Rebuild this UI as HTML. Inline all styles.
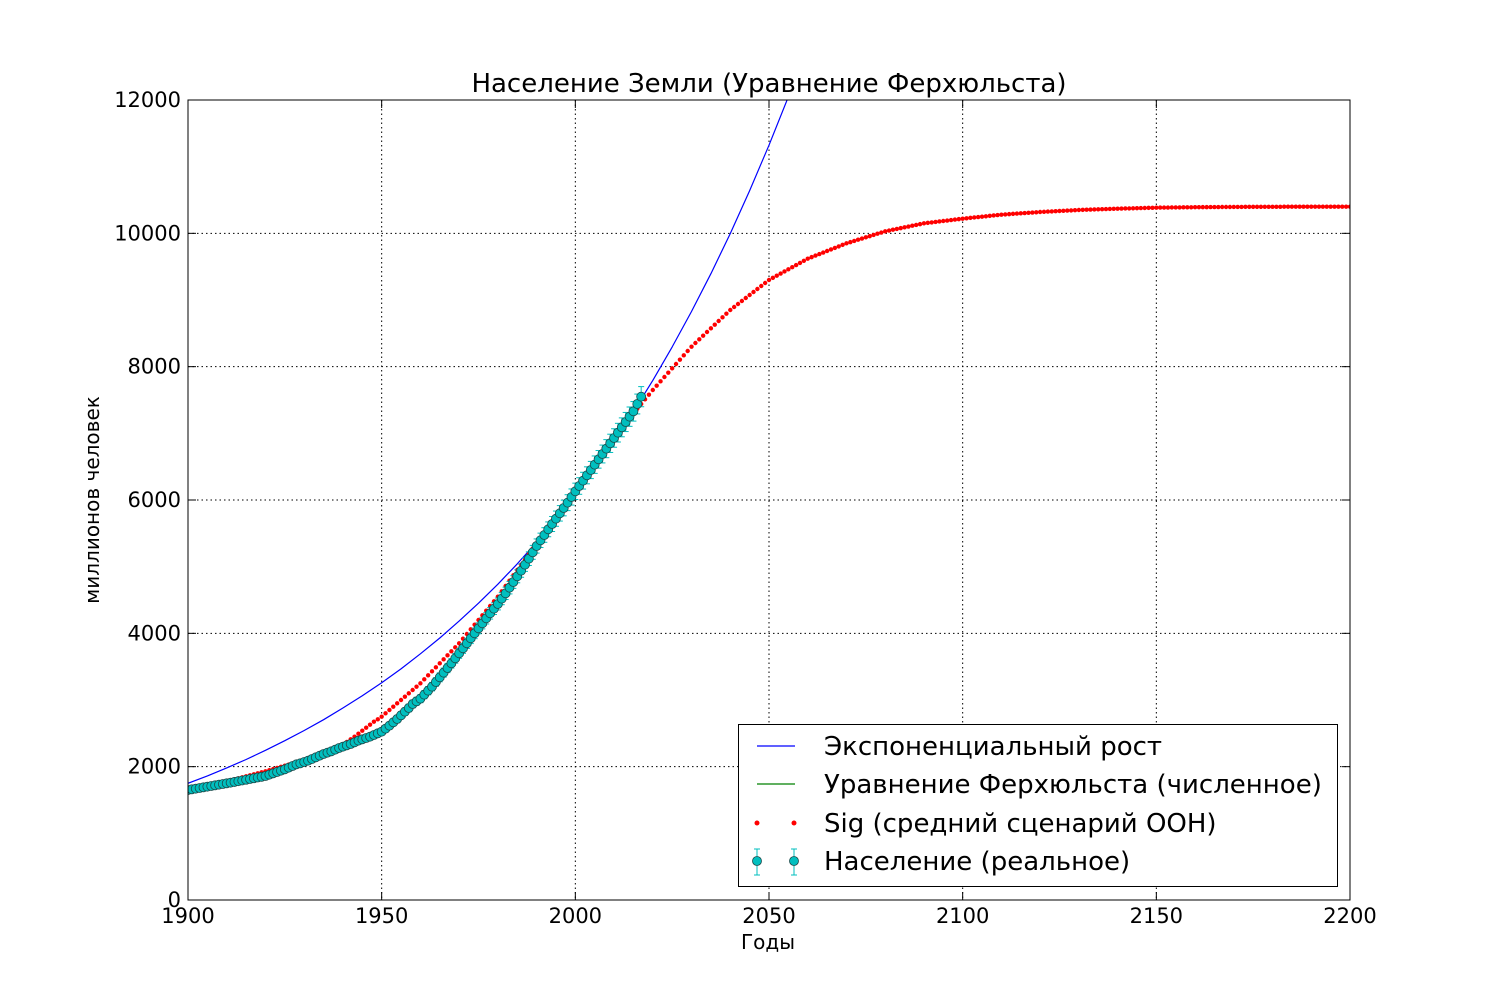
<!DOCTYPE html>
<html><head><meta charset="utf-8"><style>
html,body{margin:0;padding:0;background:#fff;}
svg{display:block;font-family:"DejaVu Sans","Liberation Sans",sans-serif;}
</style></head><body>
<svg id="chart" width="1500" height="1000" viewBox="0 0 1500 1000"></svg>
<script>
const xTicks=[1900,1950,2000,2050,2100,2150,2200];
const yTicks=[0,2000,4000,6000,8000,10000,12000];
const expYears=[1900,1905,1910,1915,1920,1925,1930,1935,1940,1945,1950,1955,1960,1965,1970,1975,1980,1985,1990,1995,2000,2005,2010,2015,2020,2025,2030,2035,2040,2045,2050,2055];
const expValues=[1750,1862,1982,2107,2246,2390,2543,2705,2880,3063,3260,3467,3693,3930,4183,4452,4737,5042,5365,5710,6076,6467,6882,7325,7794,8296,8827,9395,9997,10640,11322,12050];
const sigStart=1900;
const sigValues=[
1650,1662,1675,1688,1700,1713,1726,1740,1753,1766,
1780,1795,1810,1825,1840,1855,1870,1885,1900,1915,
1930,1947,1964,1981,1998,2015,2032,2049,2066,2083,
2100,2122,2145,2168,2191,2214,2237,2260,2283,2306,
2330,2370,2410,2450,2495,2540,2585,2630,2675,2710,
2750,2800,2850,2900,2950,3000,3050,3100,3150,3200,
3250,3310,3370,3430,3490,3550,3610,3670,3730,3790,
3850,3920,3990,4060,4130,4200,4270,4340,4410,4480,
4550,4630,4710,4790,4870,4950,5030,5110,5190,5270,
5350,5430,5510,5590,5670,5750,5830,5910,5990,6070,
6150,6230,6310,6390,6470,6550,6630,6710,6790,6870,
6950,7020,7090,7160,7230,7300,7370,7440,7510,7580,
7650,7715,7780,7845,7910,7975,8040,8105,8170,8235,
8300,8355,8410,8465,8520,8575,8630,8685,8740,8795,
8850,8895,8940,8985,9030,9075,9120,9165,9210,9255,
9300,9332,9364,9396,9428,9460,9492,9524,9556,9588,
9620,9643,9666,9689,9712,9735,9758,9781,9804,9827,
9850,9868,9886,9904,9922,9940,9958,9976,9994,10012,
10030,10042,10054,10066,10078,10090,10102,10114,10126,10138,
10150,10157,10164,10171,10178,10185,10192,10199,10206,10213,
10220,10226,10232,10238,10244,10250,10256,10262,10268,10274,
10280,10284,10288,10292,10296,10300,10304,10308,10312,10316,
10320,10323,10326,10329,10332,10335,10338,10341,10344,10347,
10350,10352,10354,10356,10358,10360,10362,10364,10366,10368,
10370,10371,10373,10374,10376,10377,10379,10380,10382,10383,
10385,10386,10386,10387,10388,10388,10389,10390,10390,10391,
10392,10392,10393,10393,10394,10394,10394,10395,10395,10395,
10396,10396,10396,10397,10397,10397,10397,10397,10398,10398,
10398,10398,10398,10399,10399,10399,10399,10399,10399,10400,
10400,10400,10400,10400,10400,10400,10400,10400,10400,10400,
10400];
const popStart=1900;
const popValues=[
1650,1660,1670,1680,1690,1700,1710,1720,1730,1740,
1750,1760,1771,1782,1793,1804,1815,1826,1837,1848,
1860,1880,1900,1920,1940,1960,1985,2010,2035,2050,
2070,2090,2115,2140,2165,2190,2210,2230,2255,2280,
2300,2320,2340,2365,2390,2410,2430,2450,2475,2500,
2525,2570,2615,2665,2715,2770,2825,2880,2940,2980,
3020,3080,3140,3200,3270,3340,3410,3480,3550,3625,
3700,3775,3850,3925,4000,4075,4150,4225,4300,4370,
4440,4520,4600,4685,4770,4855,4940,5030,5120,5215,
5310,5395,5475,5560,5640,5720,5800,5880,5960,6045,
6130,6210,6290,6370,6450,6530,6610,6690,6770,6850,
6930,7010,7090,7170,7250,7330,7440,7550];
const errFrac=0.02;

const X0=188,X1=1350,Y0=900,Y1=100;
const sx=v=>X0+(v-1900)/(2200-1900)*(X1-X0);
const sy=v=>Y0-(v-0)/(12000-0)*(Y0-Y1);
const NS="http://www.w3.org/2000/svg";
const svg=document.getElementById('chart');
function mk(tag,attrs,parent){const e=document.createElementNS(NS,tag);for(const k in attrs)e.setAttribute(k,attrs[k]);(parent||svg).appendChild(e);return e;}

const defs=mk('defs',{});
const cp=mk('clipPath',{id:'plotclip'},defs);
mk('rect',{x:X0,y:Y1,width:X1-X0,height:Y0-Y1},cp);

const grid=mk('g',{});


xTicks.forEach(t=>{mk('line',{x1:sx(t),x2:sx(t),y1:Y1,y2:Y0,stroke:'#000','stroke-width':1,'stroke-dasharray':'1.5,3'},grid);});
yTicks.forEach(t=>{mk('line',{x1:X0,x2:X1,y1:sy(t),y2:sy(t),stroke:'#000','stroke-width':1,'stroke-dasharray':'1.5,3'},grid);});

const plot=mk('g',{'clip-path':'url(#plotclip)'});
let d='';
expYears.forEach((y,i)=>{d+=(i?'L':'M')+sx(y).toFixed(1)+','+sy(expValues[i]).toFixed(1);});
const expLine=mk('path',{d:d,fill:'none',stroke:'#0000ff','stroke-width':1.2,'stroke-linejoin':'round'},plot);



const sigG=mk('g',{fill:'#ff0000'},plot);


sigValues.forEach((v,i)=>{const c=mk('circle',{cx:sx(sigStart+i),cy:sy(v),r:2.2},sigG);

});

const popG=mk('g',{},plot);


popValues.forEach((v,i)=>{const x=sx(popStart+i),e=v*errFrac;
mk('line',{x1:x,x2:x,y1:sy(v-e),y2:sy(v+e),stroke:'#00bfbf','stroke-width':1},popG);
mk('line',{x1:x-3,x2:x+3,y1:sy(v-e),y2:sy(v-e),stroke:'#00bfbf','stroke-width':1},popG);
mk('line',{x1:x-3,x2:x+3,y1:sy(v+e),y2:sy(v+e),stroke:'#00bfbf','stroke-width':1},popG);});
popValues.forEach((v,i)=>{const c=mk('circle',{cx:sx(popStart+i),cy:sy(v),r:4.5,fill:'#00bfbf',stroke:'#1a4a4a','stroke-width':0.8},popG);

});

const frame=mk('rect',{x:X0,y:Y1,width:X1-X0,height:Y0-Y1,fill:'none',stroke:'#000','stroke-width':1});


const xax=mk('g',{'font-size':21,'text-anchor':'middle',fill:'#000'});


xTicks.forEach(t=>{const x=sx(t);
mk('line',{x1:x,x2:x,y1:Y0,y2:Y0-8,stroke:'#000'},xax);
mk('line',{x1:x,x2:x,y1:Y1,y2:Y1+8,stroke:'#000'},xax);
const tx=mk('text',{x:x,y:Y0+23},xax);tx.textContent=t;

});
const yax=mk('g',{'font-size':21,'text-anchor':'end',fill:'#000'});


yTicks.forEach(t=>{const y=sy(t);
mk('line',{x1:X0,x2:X0+8,y1:y,y2:y,stroke:'#000'},yax);
mk('line',{x1:X1,x2:X1-8,y1:y,y2:y,stroke:'#000'},yax);
const tx=mk('text',{x:X0-7,y:y+7},yax);tx.textContent=t;

});
</script>
<div style="position:absolute;left:0;top:0;width:1500px;height:1000px;pointer-events:none;">
<svg width="1500" height="1000" style="position:absolute;left:0;top:0;font-family:'DejaVu Sans','Liberation Sans',sans-serif;">
<text x="769" y="92" font-size="26" text-anchor="middle">Население Земли (Уравнение Ферхюльста)</text>
<text x="768" y="949" font-size="20" text-anchor="middle">Годы</text>
<text x="0" y="0" font-size="20" text-anchor="middle" transform="translate(99,500) rotate(-90)">миллионов человек</text>
<g>
<rect x="738.5" y="724.5" width="599" height="162" fill="#fff" stroke="#000" stroke-width="1"/>
<g>
<line x1="757" x2="795" y1="746" y2="746" stroke="#0000ff" stroke-width="1.2"/>
<text x="824" y="755" font-size="26">Экспоненциальный рост</text></g>
<g>
<line x1="757" x2="795" y1="784" y2="784" stroke="#008000" stroke-width="1.2"/>
<text x="824" y="793" font-size="26">Уравнение Ферхюльста (численное)</text></g>
<g>
<circle cx="757" cy="823" r="2.5" fill="#ff0000"/><circle cx="794" cy="823" r="2.5" fill="#ff0000"/>
<text x="824" y="832" font-size="26">Sig (средний сценарий ООН)</text></g>
<g>
<g stroke="#00bfbf" stroke-width="1"><line x1="757" x2="757" y1="849" y2="875"/><line x1="754" x2="760" y1="849" y2="849"/><line x1="754" x2="760" y1="875" y2="875"/>
<line x1="794" x2="794" y1="849" y2="875"/><line x1="791" x2="797" y1="849" y2="849"/><line x1="791" x2="797" y1="875" y2="875"/></g>
<circle cx="757" cy="861" r="4.5" fill="#00bfbf" stroke="#1a4a4a" stroke-width="0.8"/><circle cx="794" cy="861" r="4.5" fill="#00bfbf" stroke="#1a4a4a" stroke-width="0.8"/>
<text x="824" y="870" font-size="26">Население (реальное)</text></g>
</g>
</svg></div>
</body></html>
